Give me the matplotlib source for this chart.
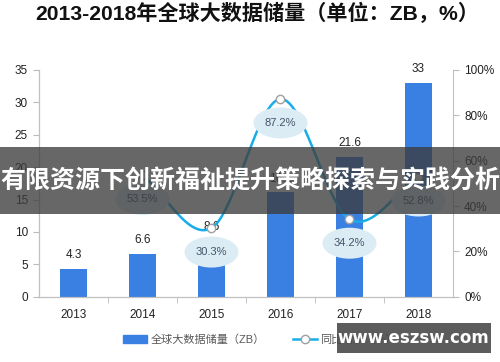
import numpy as np
import matplotlib
matplotlib.use("Agg")
import matplotlib.pyplot as plt
from matplotlib.patches import Rectangle, Ellipse, Patch
from matplotlib.lines import Line2D
from matplotlib.transforms import ScaledTranslation

years = ["2013", "2014", "2015", "2016", "2017", "2018"]
storage = [4.3, 6.6, 8.6, 16.1, 21.6, 33]
growth_years_idx = [1, 2, 3, 4, 5]
growth = [53.5, 30.3, 87.2, 34.2, 52.8]

plt.rcParams['font.family'] = ['Liberation Sans', 'Noto Sans CJK SC', 'DejaVu Sans']

fig = plt.figure(figsize=(5, 3.62), dpi=100)
ax = fig.add_axes([0.078, 0.18, 0.828, 0.627])
ax2 = ax.twinx()

x = np.arange(len(years))
bar_color = "#3a7fe2"
line_color = "#18ade8"
ax.bar(x, storage, width=0.38, color=bar_color, zorder=2)
for xi, v in zip(x, storage):
    ax.annotate(f"{v:g}", (xi, v), xytext=(0, 10), textcoords="offset points",
                ha="center", va="center", fontsize=8.5, color="#222222")

ax.set_xlim(-0.5, 5.5)
ax.set_ylim(0, 35)
ax.set_yticks(range(0, 36, 5))
ax.set_xticks(x)
ax.set_xticklabels(years)
ax.set_xticks(np.arange(0.5, 5.5, 1), minor=True)
ax.tick_params(axis="x", which="major", length=0, pad=9, labelsize=8.5, labelcolor="#222222")
ax.tick_params(axis="x", which="minor", length=4, color="#bbbbbb", direction="out")
ax.tick_params(axis="y", length=4, color="#bbbbbb", labelsize=8.5, labelcolor="#222222", pad=4)

ax2.set_ylim(0, 100)
ax2.set_yticks(range(0, 101, 20))
ax2.set_yticklabels([f"{t}%" for t in range(0, 101, 20)])
ax2.tick_params(axis="y", length=4, color="#bbbbbb", labelsize=8.5, labelcolor="#222222", pad=4)

for a in (ax, ax2):
    a.spines["top"].set_visible(False)
    for s in ("left", "right", "bottom"):
        a.spines[s].set_color("#c0c0c0")
ax.spines["right"].set_visible(False)

# smooth curve (Catmull-Rom) through growth points
gx = np.array(growth_years_idx, dtype=float)
gy = np.array(growth, dtype=float)
P = np.column_stack([gx, gy])
P_ext = np.vstack([2 * P[0] - P[1], P, 2 * P[-1] - P[-2]])
curve = []
for i in range(1, len(P_ext) - 2):
    p0, p1, p2, p3 = P_ext[i - 1], P_ext[i], P_ext[i + 1], P_ext[i + 2]
    t = np.linspace(0, 1, 30)[:, None]
    seg = 0.5 * ((2 * p1) + (-p0 + p2) * t + (2 * p0 - 5 * p1 + 4 * p2 - p3) * t ** 2
                 + (-p0 + 3 * p1 - 3 * p2 + p3) * t ** 3)
    curve.append(seg)
curve = np.vstack(curve)
ax2.plot(curve[:, 0], curve[:, 1], color=line_color, lw=1.8, zorder=3)
ax2.plot(gx, gy, 'o', ms=6, mfc="white", mec="#a0a0a0", mew=1.0, zorder=4)
off_in = 24 / 100  # label offset below the point, inches
for xi, v in zip(gx, gy):
    tr = fig.dpi_scale_trans + ScaledTranslation(xi, v, ax2.transData)
    ax2.add_patch(Ellipse((0, -off_in), 0.54, 0.31, transform=tr, fc="#dbecf5",
                          ec="none", zorder=5, clip_on=False))
    ax2.text(0, -off_in, f"{v:.1f}%", transform=tr, ha="center", va="center",
             fontsize=8, color="#44546a", zorder=6)

# legend
handles = [Patch(color=bar_color, label="全球大数据储量（ZB）"),
           Line2D([0], [0], color=line_color, lw=1.8, marker='o', ms=6, mfc="white",
                  mec="#a0a0a0", label="同比增长（%）")]
fig.legend(handles=handles, loc="center", bbox_to_anchor=(0.52, 0.063), ncol=2, frameon=False,
           fontsize=8, labelcolor="#595959", handlelength=2.2, columnspacing=2.5,
           handletextpad=0.3)

fig.text(0.515, 0.962, "2013-2018年全球大数据储量（单位：ZB，%）", ha="center", va="center",
         fontsize=15.2, fontweight="bold", color="#111111")

# overlay banner
fig.patches.append(Rectangle((0, 1 - 214 / 362), 1, 67 / 362, transform=fig.transFigure,
                             fc="#3c3c3c", alpha=0.78, zorder=10))
fig.text(0.5, 1 - 181 / 362, "有限资源下创新福祉提升策略探索与实践分析", ha="center", va="center",
         fontsize=18, fontweight="bold", color="white", zorder=11,
         family=['Noto Sans CJK SC', 'DejaVu Sans'])

# watermark
fig.patches.append(Rectangle((337 / 500, 1 - 353 / 362), 154 / 500, 30 / 362,
                             transform=fig.transFigure, fc="#4a4a4a", alpha=0.9, zorder=10))
fig.text(413 / 500, 1 - 338 / 362, "www.eszsw.com", ha="center", va="center",
         fontsize=12, fontweight="bold", color="white", zorder=11, family="DejaVu Sans")

fig.savefig("out.png", dpi=100)
